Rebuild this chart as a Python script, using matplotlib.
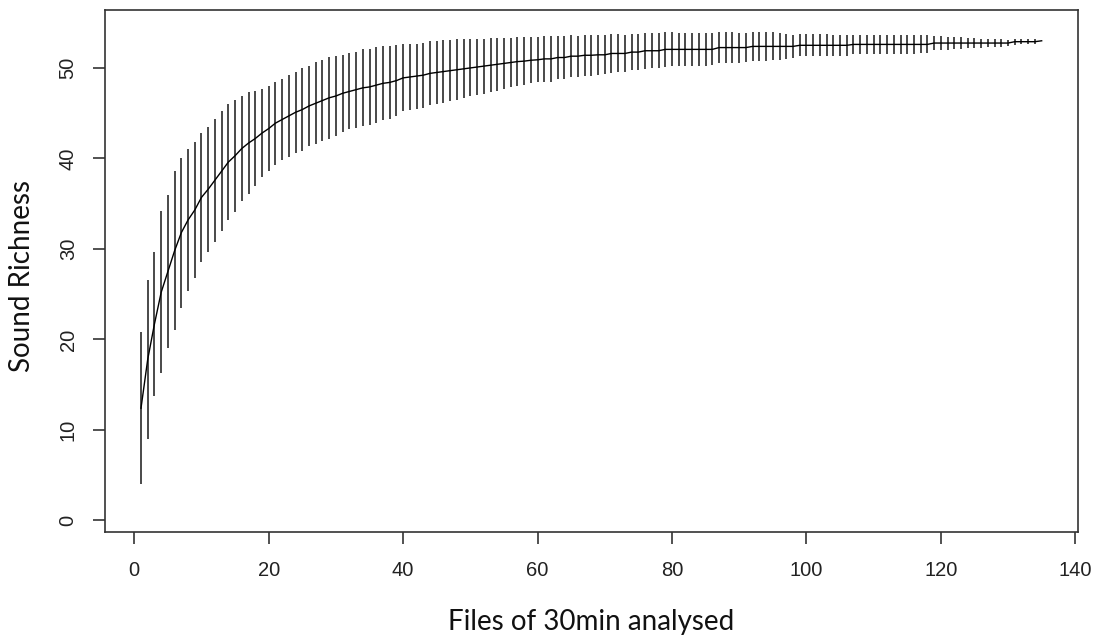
import numpy as np
import matplotlib
matplotlib.use("Agg")
import matplotlib.pyplot as plt

# accumulation curve: files analysed vs mean sound richness (+/- sd)
files = np.arange(1, 136)

richness = [
    12.4, 17.8, 21.7, 25.2, 27.5, 29.8, 31.8, 33.2, 34.3, 35.7,
    36.6, 37.6, 38.6, 39.6, 40.3, 41.1, 41.7, 42.2, 42.8, 43.3,
    43.9, 44.3, 44.7, 45.1, 45.4, 45.8, 46.1, 46.4, 46.7, 46.9,
    47.2, 47.4, 47.6, 47.8, 47.9, 48.1, 48.3, 48.4, 48.6, 48.9,
    49.0, 49.1, 49.2, 49.4, 49.5, 49.6, 49.7, 49.8, 49.9, 50.0,
    50.1, 50.2, 50.3, 50.4, 50.5, 50.6, 50.7, 50.75, 50.85, 50.9,
    51.0, 51.0, 51.15, 51.15, 51.3, 51.3, 51.4, 51.4, 51.45, 51.45,
    51.6, 51.6, 51.6, 51.75, 51.75, 51.9, 51.9, 51.9, 52.05, 52.05,
    52.05, 52.05, 52.05, 52.05, 52.05, 52.05, 52.25, 52.25, 52.25, 52.25,
    52.25, 52.38, 52.38, 52.38, 52.38, 52.38, 52.38, 52.38, 52.5, 52.5,
    52.5, 52.5, 52.5, 52.5, 52.5, 52.5, 52.6, 52.6, 52.6, 52.6,
    52.6, 52.6, 52.6, 52.6, 52.6, 52.6, 52.6, 52.6, 52.75, 52.75,
    52.75, 52.75, 52.75, 52.75, 52.75, 52.75, 52.75, 52.75, 52.75, 52.75,
    52.9, 52.9, 52.9, 52.9, 53.0,
]

sd = [
    8.4, 8.8, 8.0, 8.95, 8.5, 8.8, 8.3, 7.85, 7.55, 7.1,
    6.9, 6.8, 6.6, 6.4, 6.2, 5.85, 5.6, 5.3, 4.9, 4.65,
    4.6, 4.45, 4.5, 4.45, 4.55, 4.4, 4.55, 4.5, 4.5, 4.4,
    4.25, 4.2, 4.2, 4.25, 4.2, 4.2, 4.1, 4.05, 3.9, 3.7,
    3.65, 3.6, 3.6, 3.55, 3.5, 3.45, 3.4, 3.35, 3.25, 3.15,
    3.1, 3.05, 3.0, 2.95, 2.8, 2.7, 2.75, 2.65, 2.55, 2.5,
    2.55, 2.5, 2.4, 2.4, 2.3, 2.25, 2.25, 2.25, 2.2, 2.15,
    2.15, 2.1, 2.05, 2.0, 2.0, 1.98, 1.96, 1.95, 1.9, 1.88,
    1.86, 1.85, 1.85, 1.84, 1.82, 1.78, 1.75, 1.75, 1.7, 1.65,
    1.64, 1.6, 1.62, 1.6, 1.55, 1.5, 1.35, 1.3, 1.2, 1.2,
    1.2, 1.2, 1.2, 1.18, 1.18, 1.15, 1.05, 1.05, 1.05, 1.05,
    1.04, 1.04, 1.03, 1.03, 1.02, 1.02, 1.0, 1.0, 0.8, 0.75,
    0.72, 0.68, 0.62, 0.58, 0.55, 0.5, 0.48, 0.44, 0.4, 0.38,
    0.32, 0.3, 0.28, 0.25, 0.0,
]

xticks = [0, 20, 40, 60, 80, 100, 120, 140]
yticks = [0, 10, 20, 30, 40, 50]

richness = np.array(richness)
sd = np.array(sd)

fig = plt.figure(figsize=(10.98, 6.42), dpi=100)
ax = fig.add_axes([0.0956, 0.1713, 0.8859, 0.8131])

ax.vlines(files, richness - sd, richness + sd, color='#3a3a3a', linewidth=1.3)
ax.plot(files, richness, color='black', linewidth=1.0)

ax.set_xlim(-4.36, 140.36)
ax.set_ylim(-1.28, 56.4)
ax.set_xticks(xticks)
ax.set_yticks(yticks)

tick_font = dict(family='Liberation Sans', size=14.5, color='#222222')
ax.set_xticklabels([str(t) for t in xticks], **tick_font)
ax.set_yticklabels([str(t) for t in yticks], rotation=90, va='center', **tick_font)
ax.tick_params(axis='x', direction='out', length=8.6, width=1.2, color='#333333', pad=12)
ax.tick_params(axis='y', direction='out', length=8.6, width=1.2, color='#333333', pad=11)

for s in ax.spines.values():
    s.set_linewidth(1.2)
    s.set_color('#333333')

ax.set_xlabel('Files of 30min analysed', family='Lato', size=20, color='#111111')
ax.xaxis.label.set_va('center')
ax.xaxis.set_label_coords(0.5, -0.1724)
ax.set_ylabel('Sound Richness', family='Lato', size=20, color='#111111')
ax.yaxis.label.set_va('center')
ax.yaxis.set_label_coords(-0.0853, 0.49)

fig.savefig('out.png', dpi=100)
